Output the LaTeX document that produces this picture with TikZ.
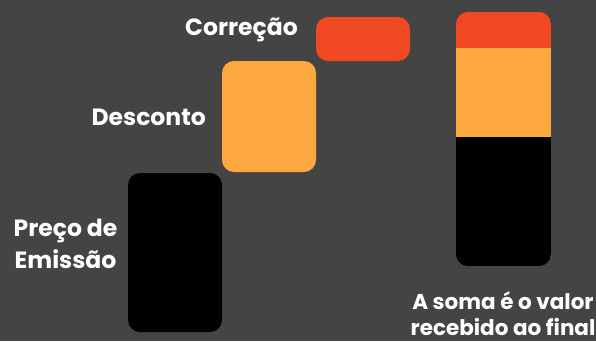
\documentclass[tikz,border=0pt]{standalone}
\usepackage{fontspec}
\setmainfont{Poppins}[UprightFont=* Bold, BoldFont=* Bold]
\definecolor{bg}{HTML}{444444}
\definecolor{cred}{HTML}{EF4823}
\definecolor{corange}{HTML}{FDA83E}
\begin{document}
\begin{tikzpicture}[x=1pt,y=-1pt,
  lbl/.style={text=white,font=\fontsize{23.5}{32}\selectfont,inner sep=0pt},
  bar/.style={rounded corners=12pt}]
\fill[bg] (0,0) rectangle (596,341);
\useasboundingbox (0,0) rectangle (596,341);
% waterfall bars
\fill[black,bar] (128,173) rectangle (222,332);
\fill[corange,bar] (222,61) rectangle (316,172);
\fill[cred,bar] (316,17) rectangle (410,61);
% stacked bar
\begin{scope}
\clip[bar] (456,12) rectangle (551,266);
\fill[cred] (456,12) rectangle (551,47.5);
\fill[corange] (456,47.5) rectangle (551,137);
\fill[black] (456,137) rectangle (551,266);
\end{scope}
% labels
\node[lbl,anchor=base east] (c) at (298,35) {Correção};
\node[lbl,anchor=base east] (d) at (206,125) {Desconto};
\node[lbl,align=center,anchor=base] (p) at (65.5,268.5) {Preço de\\Emissão};
\node[lbl,align=center,anchor=base,font=\fontsize{21.5}{26}\selectfont] (s) at (503,335) {A soma é o valor\\recebido ao final};
\end{tikzpicture}
\end{document}
